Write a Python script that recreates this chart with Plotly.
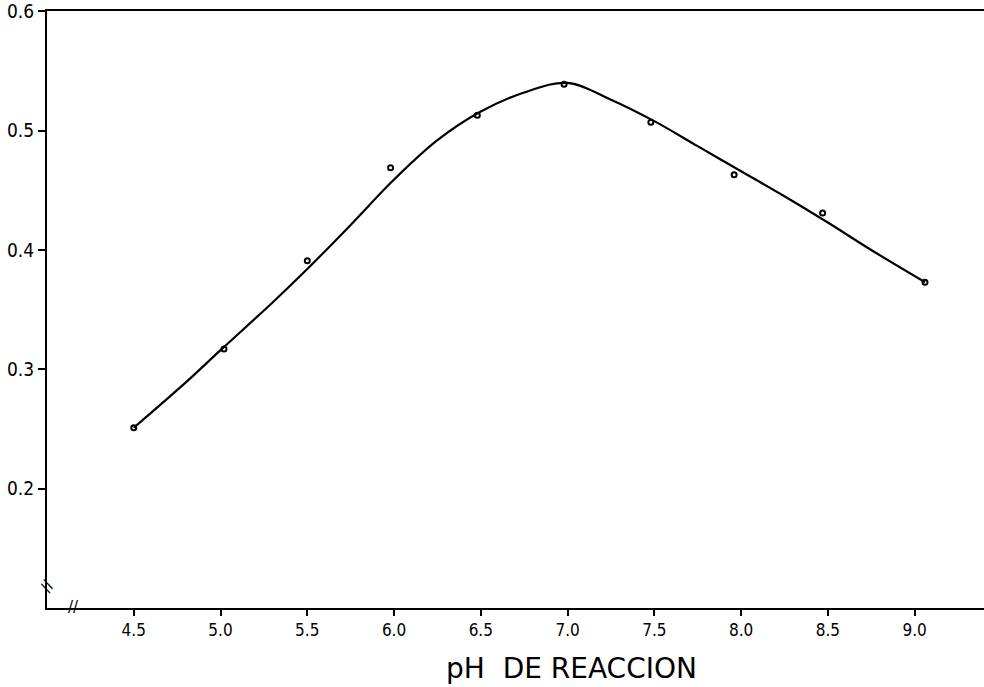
import plotly.graph_objects as go

# measured points
ph_points = [4.5, 5.02, 5.5, 5.98, 6.48, 6.98, 7.48, 7.96, 8.47, 9.06]
abs_points = [0.251, 0.317, 0.391, 0.469, 0.513, 0.539, 0.507, 0.463, 0.431, 0.373]

# fitted curve
ph_curve = [4.5, 4.8, 5.0, 5.3, 5.5, 5.75, 6.0, 6.25, 6.5, 6.75, 7.0, 7.25, 7.5, 7.75, 8.0, 8.25, 8.5, 8.75, 9.06]
abs_curve = [0.251, 0.289, 0.316, 0.356, 0.384, 0.421, 0.459, 0.492, 0.516, 0.532, 0.540, 0.526, 0.508, 0.487, 0.466, 0.445, 0.423, 0.400, 0.373]

x_ticks = [4.5, 5.0, 5.5, 6.0, 6.5, 7.0, 7.5, 8.0, 8.5, 9.0]
x_labels = ["4.5", "5.0", "5.5", "6.0", "6.5", "7.0", "7.5", "8.0", "8.5", "9.0"]
y_ticks = [0.2, 0.3, 0.4, 0.5, 0.6]
y_labels = ["0.2", "0.3", "0.4", "0.5", "0.6"]
x_title = "pH  DE REACCION"

FAM = "DejaVu Sans Condensed, DejaVu Sans"

fig = go.Figure()
fig.add_trace(go.Scatter(x=ph_curve, y=abs_curve, mode="lines",
                         line=dict(color="black", width=2.2, shape="spline", smoothing=1.0),
                         hoverinfo="skip", showlegend=False))
fig.add_trace(go.Scatter(x=ph_points, y=abs_points, mode="markers",
                         marker=dict(symbol="circle-open", size=5, color="black", line=dict(width=2)),
                         showlegend=False))

# axis break marks
fig.add_annotation(x=4.15, y=0.1, xref="x", yref="y", text="//", showarrow=False,
                   font=dict(family="DejaVu Sans", size=15, color="black"), yshift=1)
fig.add_annotation(x=4.0, y=0.118, xref="x", yref="y", text="//", showarrow=False,
                   font=dict(family="DejaVu Sans", size=15, color="black"), textangle=-60)

# axis title
fig.add_annotation(x=0.56, y=0, xref="paper", yref="paper", yanchor="top", yshift=-42,
                   text=x_title, showarrow=False,
                   font=dict(family="DejaVu Sans", size=28, color="black"))

fig.update_layout(
    width=984, height=687,
    margin=dict(l=47, r=0, t=9, b=79),
    paper_bgcolor="white", plot_bgcolor="white",
    font=dict(family=FAM, size=18, color="black"),
    xaxis=dict(range=[4.0, 9.4], tickvals=x_ticks, ticktext=x_labels,
               showgrid=False, zeroline=False, showline=True, linecolor="black", linewidth=2,
               mirror=True, ticks="outside", ticklen=6, tickwidth=2, tickcolor="black",
               tickfont=dict(family=FAM, size=17, color="black")),
    yaxis=dict(range=[0.0999, 0.6003], tickvals=y_ticks, ticktext=y_labels,
               showgrid=False, zeroline=False, showline=True, linecolor="black", linewidth=2,
               mirror=False, ticks="outside", ticklen=7, tickwidth=2, tickcolor="black",
               ticklabeloverflow="allow",
               tickfont=dict(family=FAM, size=19, color="black")),
)

fig.write_html("out.html")
